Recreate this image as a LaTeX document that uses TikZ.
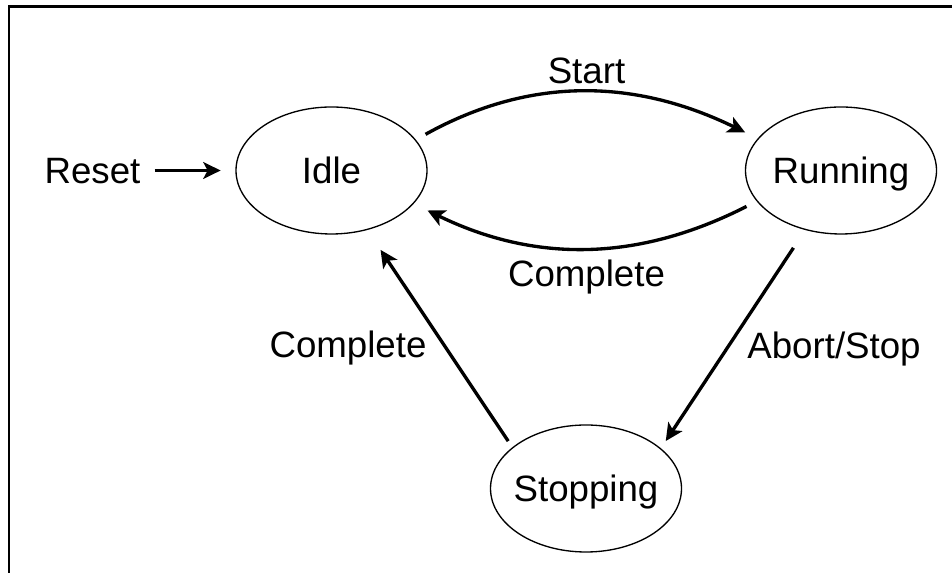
\documentclass[tikz,border=0pt]{standalone}
\usepackage{fontspec}
\setmainfont{Liberation Sans}
\usetikzlibrary{shapes.geometric,arrows.meta}
\tikzset{
	state/.style={ellipse, draw, line width=1pt, minimum width=143.25pt, minimum height=95.25pt, inner xsep=-6pt, outer sep=0pt, text height=19.7pt, text depth=0pt},
	lbl/.style={inner sep=0pt, text height=19.7pt, text depth=0pt},
	trans/.style={-{Stealth[length=13pt, width=12.5pt, inset=3.2pt]}, line width=2.5pt}
}

\begin{document}
\begin{tikzpicture}[x=0.75pt, y=0.75pt, every node/.style={font=\fontsize{27.5pt}{33pt}\selectfont}]
	\useasboundingbox (0,0) rectangle (952,573);
	\draw[line width=2.2pt] (9,-20) -- (9,566.3) -- (970,566.3);
	% states
	\node(idle)[state] at (331.5,402.5) {Idle};
	\node(running)[state] at (841,402.5) {Running};
	\node(stopping)[state] at (586,84.5) {Stopping};
	% labels
	\node(reset)[lbl] at (92.5,402.5) {Reset};
	\node(lstart)[lbl] at (586.5,502.5) {Start};
	\node(ldone)[lbl] at (586.5,299.5) {Complete};
	\node(lback)[lbl] at (348,229) {Complete};
	\node(labort)[lbl] at (834,227.5) {Abort/Stop};
	% transitions
	\draw[trans, shorten <=10.5pt, shorten >=11.5pt] (reset.east) -- (idle.west);
	\draw[trans, shorten <=8.8pt, shorten >=11pt] (idle.20) to[out=29,in=154] (running.159);
	\draw[trans, shorten <=9pt, shorten >=12pt] (running.200) to[out=207,in=-26] (idle.-22);
	\draw[trans, shorten <=6pt, shorten >=18.4pt] (stopping.151) -- (idle.-59);
	\draw[trans, shorten <=16.5pt, shorten >=7pt] (running.-121) -- (stopping.28);
\end{tikzpicture}
\end{document}
